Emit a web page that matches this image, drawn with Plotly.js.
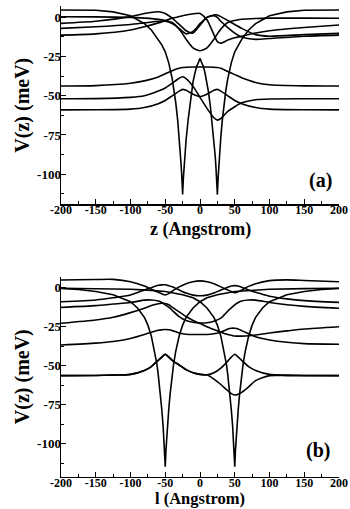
<!DOCTYPE html>
<html><head><meta charset="utf-8">
<script src="https://cdn.plot.ly/plotly-3.0.1.min.js"></script>
<style>html,body{margin:0;padding:0;background:#fff}#plot{width:350px;height:509px}</style>
</head><body><div id="plot"></div>
<script>
// ---------- Panel (a): potential ----------
const zPa = [-200,-150,-125,-100,-90,-80,-70,-60,-55,-50,-45,-40,-37,-35,-32,-30,-28,-27,-26,-25,-24,-23,-22,-20,-17,-15,-12,-10,-7,-5,-2,0,2,5,7,10,12,15,17,20,22,23,24,25,26,27,28,30,32,35,37,40,45,50,55,60,70,80,90,100,125,150,200];
const vPa = [4.7,4.5,3.5,1,-1.5,-4,-8,-14,-17.5,-22,-29,-39,-47,-54,-66,-76,-87,-95,-103,-113,-103,-96,-89,-78,-65,-57,-47,-41,-35,-31.5,-28.5,-26,-28.5,-31.5,-35,-41,-47,-57,-65,-78,-89,-96,-103,-113,-103,-95,-87,-76,-66,-54,-47,-39,-29,-22,-17.5,-14,-8,-4,-1.5,1,3.5,4.5,4.7];
// ---------- Panel (a): levels ----------
const zA = [-200,-150,-100,-80,-60,-50,-40,-30,-25,-20,-10,0,10,20,25,30,40,50,60,80,100,150,200];
const aL1 = [-43.8,-43.5,-42,-40.5,-38,-36,-34,-32.5,-32,-31.8,-31.6,-31.6,-31.6,-31.8,-32,-32.5,-34.5,-36.5,-38.5,-41.5,-43,-43.7,-43.8];
const aL2 = [-51.9,-51.8,-51,-50,-47,-45,-42,-38.8,-37.9,-39,-44,-51,-58,-64,-65.5,-64.5,-60,-57,-54.5,-52.5,-52,-51.9,-51.9];
const aL3 = [-59,-58.9,-58.5,-57.5,-55,-53,-50,-47,-45.9,-46.5,-49,-50.5,-49,-46.5,-45.9,-47,-50,-53,-55,-57.5,-58.5,-58.9,-59];
const aU  = [0.4,0.3,0,-0.5,-1.2,-2,-3.3,-7.5,-10.5,-14,-19.5,-21.3,-19.5,-14,-10.5,-7.5,-3.3,-2,-1.2,-0.7,-0.5,-0.5,-0.6];
const aA1 = [-3.8,-2.5,0.5,2.5,3.6,2.5,-0.5,-4.5,-6.5,-8.5,-10,-5,0,1,0,-2.5,-6.5,-10,-12.5,-14,-13.5,-12,-11.3];
const aS2 = [-11.3,-10.5,-8,-6,-3.5,-2,-0.5,0.5,1,1.5,2.3,2.5,-1.5,-11,-15.5,-16.5,-14.5,-13,-12,-10,-8.5,-6.5,-4.9];
const aC4 = [-7,-6,-4.5,-3.5,-2.5,-2.5,-4,-7,-9,-10.5,-9,-4,0,1.5,1.5,0.5,-2,-4.5,-7,-11,-12,-11,-10.2];
// ---------- Panel (b): potentials of each well ----------
const zW1 = [-200,-175,-150,-125,-100,-90,-80,-75,-70,-65,-62,-60,-57,-55,-53,-52,-51,-50,-49,-48,-47,-45,-43,-40,-38,-35,-30,-25,-20,-10,0,10,25,50,75,100,150,200];
const vW1 = [-0.5,-1.2,-2.5,-4.5,-9,-13,-19,-24,-31,-41,-49,-56,-68,-78,-89,-96,-104,-114.6,-104,-96,-89,-78,-68,-56,-49,-41,-31,-24,-19,-13,-9,-6.5,-4.5,-2.5,-1.6,-1,-0.6,-0.4];
const zW2 = [-200,-150,-100,-75,-50,-25,-10,0,10,20,25,30,35,38,40,43,45,47,48,49,50,51,52,53,55,57,60,62,65,70,75,80,90,100,125,150,175,200];
const vW2 = [-0.4,-0.6,-1,-1.6,-2.5,-4.5,-6.5,-9,-13,-19,-24,-31,-41,-49,-56,-68,-78,-89,-96,-104,-114.6,-104,-96,-89,-78,-68,-56,-49,-41,-31,-24,-19,-13,-9,-4.5,-2.5,-1.2,-0.5];
// ---------- Panel (b): levels ----------
const zB = [-200,-150,-125,-100,-80,-70,-60,-55,-50,-45,-40,-30,-20,-10,0,10,20,30,40,45,50,55,60,70,80,100,125,150,200];
const bB1 = [-56.3,-56.2,-56,-55.5,-53,-50.5,-46.5,-44.5,-42.6,-44.5,-46.5,-49.5,-52.5,-54.5,-55.5,-55.8,-54.5,-51.5,-47,-44.5,-42.6,-44.5,-46.5,-50.5,-53,-55.5,-56,-56.2,-56.3];
const bB2 = [-56.3,-56.2,-56,-55.5,-53,-50.5,-46.5,-44.5,-42.6,-44.5,-46.5,-49.5,-52.5,-54.5,-55.5,-55.8,-58.5,-62,-66,-67.8,-68.7,-68.2,-67,-63.5,-59.5,-56.3,-56.3,-56.3,-56.3];
const bB3 = [-36.7,-35.5,-34.5,-32.5,-30,-28.5,-27.3,-27,-26.8,-27,-27.5,-29,-29.8,-30,-30,-30,-29.5,-28.5,-26.5,-26,-26,-26.5,-27.5,-29.5,-31.5,-33.5,-35,-35.8,-36.2];
const bB4 = [-22.8,-20.7,-19,-16,-13.2,-11.5,-10.3,-10,-10.2,-11,-12.5,-15.5,-18.5,-21,-23,-25,-26.8,-28.5,-30,-30.5,-31,-31,-31,-30.8,-30.3,-29,-27.7,-26.5,-25];
const bB6 = [-12.6,-11.5,-10.5,-9.5,-8,-7.9,-8.5,-9.5,-11,-12.5,-14.5,-18.5,-21,-22.2,-22.6,-22.5,-21.5,-19.5,-15,-13,-11,-9.5,-8.5,-7.9,-8,-9.5,-11,-12,-13.2];
const bB5 = [-9,-7.9,-6.5,-4.7,-1.5,0,1.5,1.8,1.8,1.2,0.5,-1.5,-3.5,-4.8,-5.2,-4.8,-3.5,-1.5,0.3,1,1.3,1,0.3,-1.5,-3,-5.5,-7.2,-8.3,-9.4];
const bB7 = [4.9,5.2,5.3,3.8,1,-1,-3,-4,-4.7,-3.8,-2.2,0.5,2.5,3.8,4.3,3.8,2.5,0.5,-1.5,-2.5,-3.2,-2.6,-1.5,0.8,2.5,4.5,5,4.6,3.8];
// ---------- ticks & labels ----------
const xTickVals = [-200,-150,-100,-50,0,50,100,150,200];
const xTickText = ['-200','-150','-100','-50','0','50','100','150','200'];
const yTickVals = [0,-25,-50,-75,-100];
const yTickText = ['0','-25','-50','-75','-100'];
const xTitleA = 'z (Angstrom)', xTitleB = 'l (Angstrom)', yTitle = 'V(z) (meV)';
const panelLabels = ['(a)','(b)'];

const F = 'Liberation Serif, Times New Roman, serif';
const bold = s => '<b>' + s + '</b>';
function tr(x, y, ax, shape){
  return {x:x, y:y, xaxis:ax[0], yaxis:ax[1], type:'scatter', mode:'lines', hoverinfo:'skip',
    line:{color:'#000', width:1.6, shape:shape||'spline', smoothing:0.6}};
}
const A = ['x','y'], B = ['x2','y2'];
const data = [
  tr(zPa, vPa, A, 'linear'),
  tr(zA, aL1, A), tr(zA, aL2, A), tr(zA, aL3, A),
  tr(zA, aU, A), tr(zA, aA1, A), tr(zA, aS2, A), tr(zA, aC4, A),
  tr(zW1, vW1, B, 'linear'), tr(zW2, vW2, B, 'linear'),
  tr(zB, bB1, B), tr(zB, bB2, B), tr(zB, bB3, B), tr(zB, bB4, B),
  tr(zB, bB5, B), tr(zB, bB6, B), tr(zB, bB7, B)
];
function xax(anchor){
  return {anchor:anchor, domain:[0,1], range:[-200,200], showgrid:false, zeroline:false,
    showline:true, linecolor:'#000', linewidth:1.5, ticks:'inside', ticklen:5, tickwidth:1, tickcolor:'#000',
    tickmode:'array', tickvals:xTickVals, ticktext:xTickText.map(bold),
    minor:{ticks:'inside', ticklen:3, dtick:25, tickcolor:'#000', tickwidth:1},
    tickfont:{family:F, size:12, color:'#000'}, ticklabelstandoff:-6,
    automargin:false, fixedrange:true};
}
function yax(anchor, domain, range){
  return {anchor:anchor, domain:domain, range:range, showgrid:false, zeroline:false,
    showline:true, linecolor:'#000', linewidth:1.5, ticks:'inside', ticklen:5, tickwidth:1, tickcolor:'#000',
    tickmode:'array', tickvals:yTickVals, ticktext:yTickText.map(bold),
    minor:{ticks:'inside', ticklen:3, dtick:12.5, tickcolor:'#000', tickwidth:1},
    tickfont:{family:F, size:13, color:'#000'}, ticklabelstandoff:-4,
    title:{text:bold(yTitle), font:{family:F, size:20, color:'#000'}, standoff:2},
    automargin:false, fixedrange:true};
}
const tfont = {family:F, size:18, color:'#000'};
const layout = {
  width:350, height:509, margin:{l:61, r:11, t:0, b:0},
  paper_bgcolor:'#fff', plot_bgcolor:'#fff', showlegend:false,
  xaxis: xax('y'),
  yaxis: yax('x', [0.59921, 0.98743], [-119, 7]),
  xaxis2: xax('y2'),
  yaxis2: yax('x2', [0.06346, 0.45639], [-121, 7]),
  annotations:[
    {xref:'paper', yref:'paper', x:0.5, y:1-229/509, yanchor:'middle', text:bold(xTitleA), showarrow:false, font:tfont},
    {xref:'paper', yref:'paper', x:0.5, y:0, yanchor:'bottom', borderpad:0, text:bold(xTitleB), showarrow:false, font:{family:F, size:16.5, color:'#000'}},
    {xref:'x', yref:'y', x:173, y:-104, text:bold(panelLabels[0]), showarrow:false, font:{family:F, size:20, color:'#000'}},
    {xref:'x2', yref:'y2', x:170, y:-104, text:bold(panelLabels[1]), showarrow:false, font:{family:F, size:20, color:'#000'}}
  ]
};
Plotly.newPlot('plot', data, layout, {staticPlot:true, displayModeBar:false});
</script></body></html>
